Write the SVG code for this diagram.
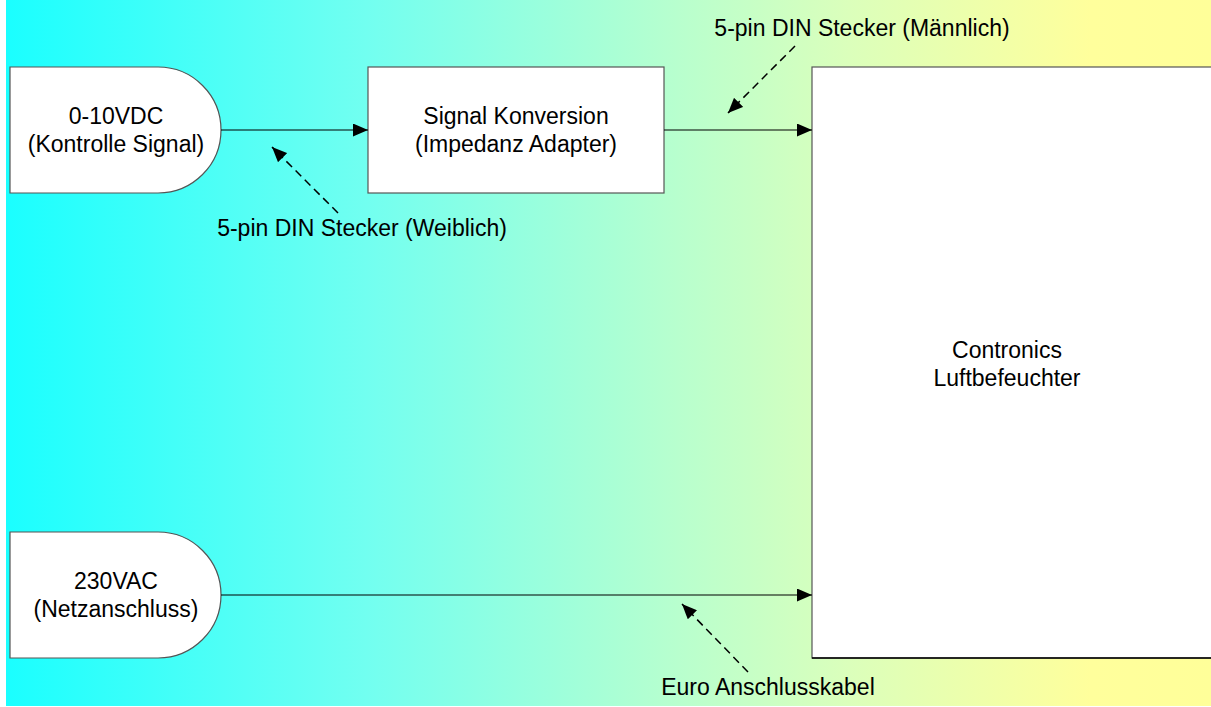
<svg xmlns="http://www.w3.org/2000/svg" width="1211" height="707" viewBox="0 0 1211 707">
  <defs>
    <linearGradient id="bg" x1="6" y1="0" x2="1211" y2="0" gradientUnits="userSpaceOnUse">
      <stop offset="0" stop-color="#1affff"/>
      <stop offset="0.3" stop-color="#72fff0"/>
      <stop offset="0.55" stop-color="#b6ffcf"/>
      <stop offset="0.7" stop-color="#dbffbb"/>
      <stop offset="0.9" stop-color="#ffff9c"/>
      <stop offset="1" stop-color="#ffff99"/>
    </linearGradient>
    <marker id="arr" viewBox="0 0 15 13" refX="15" refY="6.5" markerWidth="15" markerHeight="13" markerUnits="userSpaceOnUse" orient="auto">
      <path d="M0,0 L15,6.5 L0,13 Z" fill="#000"/>
    </marker>
  </defs>
  <style>
    .node { fill: #fff; stroke: #555; stroke-width: 1.2; }
    .conn { stroke: #000; stroke-width: 1.2; fill: none; marker-end: url(#arr); }
    .dash { stroke: #000; stroke-width: 1.5; fill: none; stroke-dasharray: 8 5; marker-end: url(#arr); }
    text { font-family: "Liberation Sans", Arial, sans-serif; font-size: 23px; fill: #000; text-anchor: middle; }
  </style>
  <rect x="6" y="0" width="1205" height="706" fill="url(#bg)"/>

  <g id="node-signal">
    <path class="node" d="M10,67 H158 A63,63 0 0 1 158,193 H10 Z"/>
    <text x="116" y="124">0-10VDC</text>
    <text x="116" y="152">(Kontrolle Signal)</text>
  </g>

  <g id="node-power">
    <path class="node" d="M10,532 H158 A63,63 0 0 1 158,658 H10 Z"/>
    <text x="116" y="589">230VAC</text>
    <text x="116" y="617">(Netzanschluss)</text>
  </g>

  <g id="node-converter">
    <rect class="node" x="368" y="67" width="296" height="126"/>
    <text x="516" y="124">Signal Konversion</text>
    <text x="516" y="152">(Impedanz Adapter)</text>
  </g>

  <g id="node-humidifier">
    <rect class="node" x="812" y="67" width="410" height="591"/>
    <line x1="812" y1="658" x2="1211" y2="658" stroke="#000" stroke-width="1.5"/>
    <text x="1007" y="358">Contronics</text>
    <text x="1007" y="386">Luftbefeuchter</text>
  </g>

  <g id="connectors">
    <line class="conn" x1="221" y1="130" x2="368" y2="130"/>
    <line class="conn" x1="664" y1="130" x2="812" y2="130"/>
    <line class="conn" x1="221" y1="595" x2="812" y2="595"/>
    <line class="dash" x1="338" y1="213" x2="272" y2="147"/>
    <line class="dash" x1="795" y1="46" x2="728" y2="113"/>
    <line class="dash" x1="748" y1="672" x2="682" y2="604"/>
  </g>

  <g id="labels">
    <text x="362" y="236">5-pin DIN Stecker (Weiblich)</text>
    <text x="862" y="36">5-pin DIN Stecker (Männlich)</text>
    <text x="768" y="695">Euro Anschlusskabel</text>
  </g>
</svg>
